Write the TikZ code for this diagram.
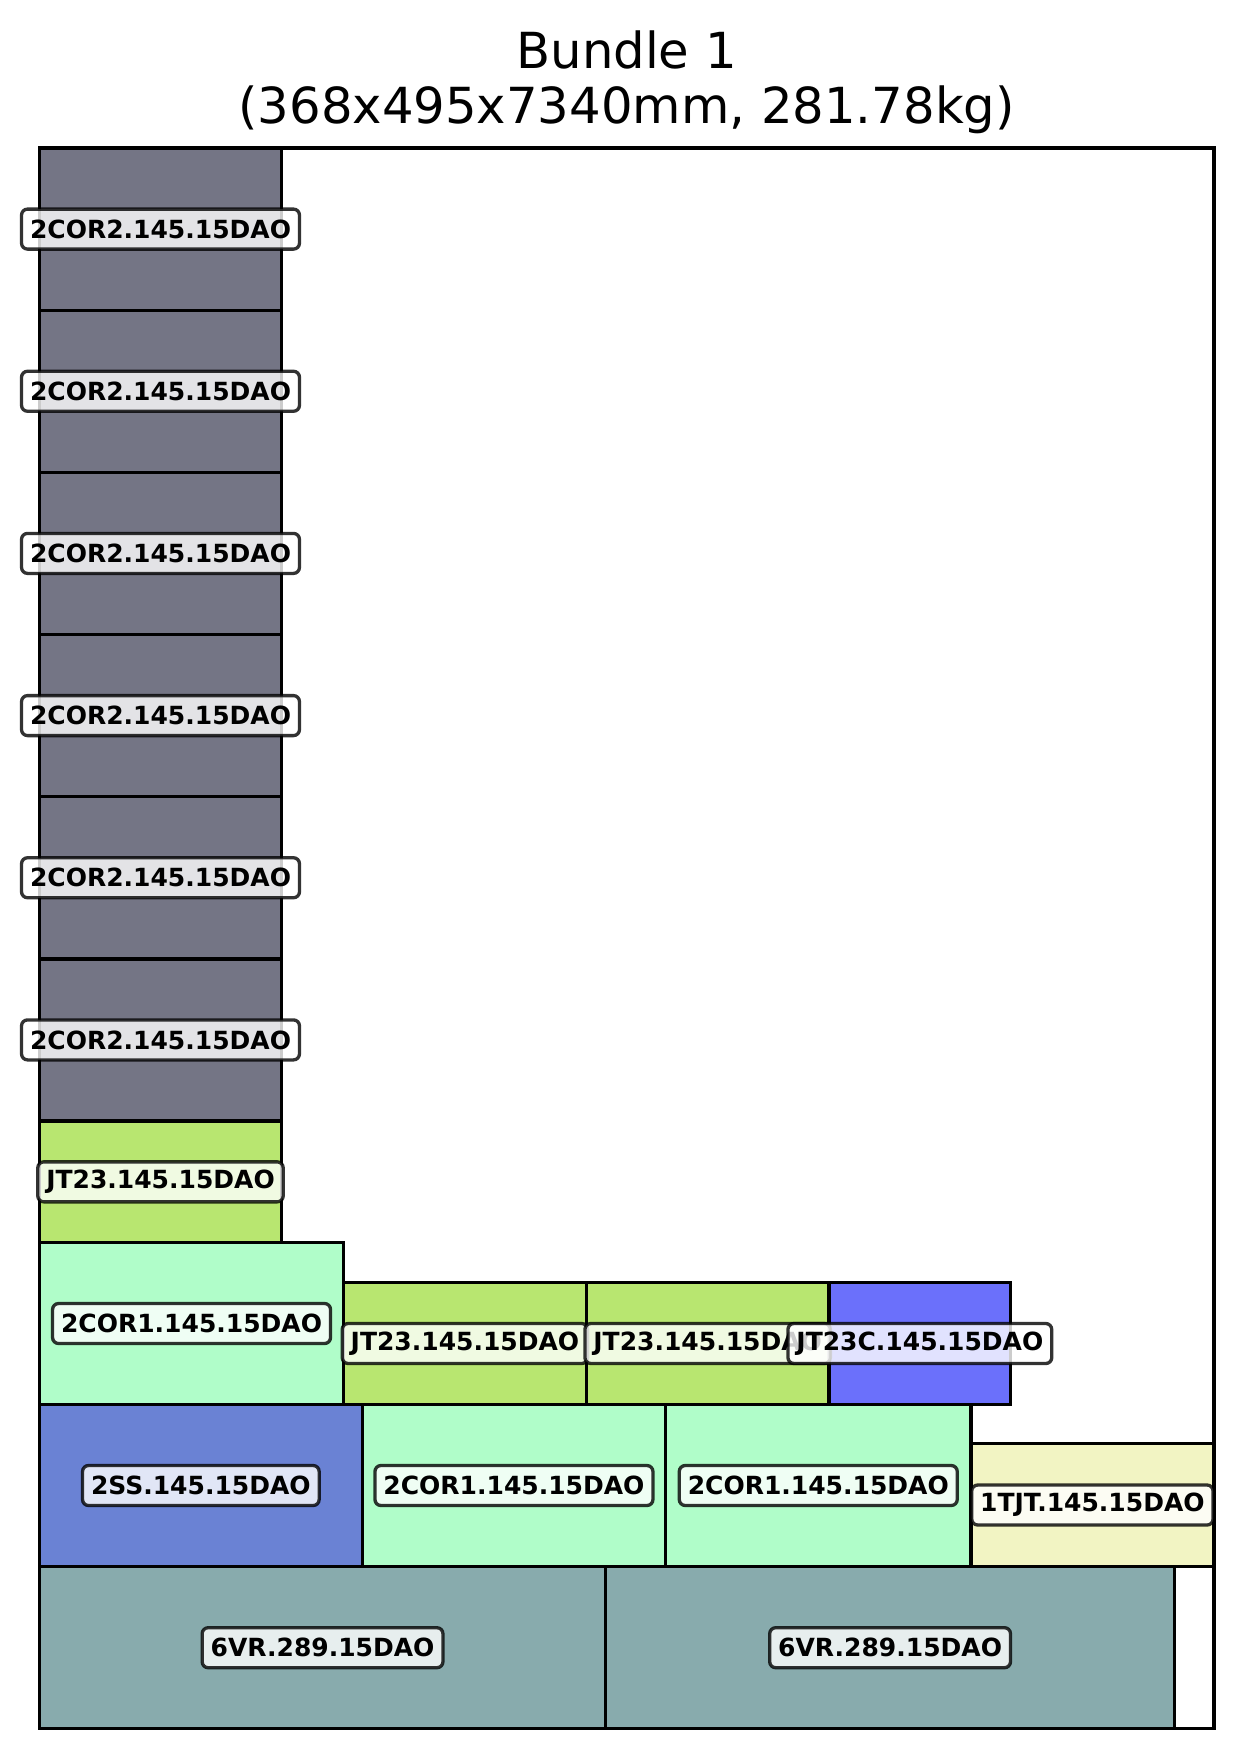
\documentclass[tikz,border=0pt]{standalone}
\usepackage{fontspec}
\setmainfont{DejaVu Sans}
\definecolor{cgray}{HTML}{747585}
\definecolor{cjt}{HTML}{B8E670}
\definecolor{cmint}{HTML}{B0FDC9}
\definecolor{css}{HTML}{6A82D4}
\definecolor{cjtc}{HTML}{6B70FB}
\definecolor{ctjt}{HTML}{F2F4C3}
\definecolor{cvr}{HTML}{88ABAD}
\begin{document}
\begin{tikzpicture}[x=1pt,y=-1pt,
  pbox/.style={draw=black,line width=3.4pt},
  plabel/.style={draw=black,draw opacity=0.8,fill=white,fill opacity=0.8,text opacity=1,
    rounded corners=6pt,line width=3.3pt,inner xsep=8.5pt,inner ysep=0pt,minimum height=40pt,
    font=\fontsize{25}{27}\selectfont\bfseries},
  ttl/.style={font=\fontsize{49.7}{55}\selectfont,anchor=base,inner sep=0pt}]
\useasboundingbox (0,0) rectangle (1244,1759);
% title
\node[ttl] (t1) at (626.7,68.3) {Bundle 1};
\node[ttl] (t2) at (626.7,123.3) {(368x495x7340mm, 281.78kg)};
% boxes
\draw[pbox,fill=cgray] (39.5,148) rectangle (281.6,310.2);
\draw[pbox,fill=cgray] (39.5,310.2) rectangle (281.6,472.3);
\draw[pbox,fill=cgray] (39.5,472.3) rectangle (281.6,634.5);
\draw[pbox,fill=cgray] (39.5,634.5) rectangle (281.6,796.7);
\draw[pbox,fill=cgray] (39.5,796.7) rectangle (281.6,958.8);
\draw[pbox,fill=cgray] (39.5,958.8) rectangle (281.6,1121);
\draw[pbox,fill=cjt] (39.5,1121) rectangle (281.6,1242.7);
\draw[pbox,fill=cmint] (39.5,1242.7) rectangle (343.6,1404.3);
\draw[pbox,fill=cjt] (343.6,1282.7) rectangle (586.3,1404.3);
\draw[pbox,fill=cjt] (586.3,1282.7) rectangle (829,1404.3);
\draw[pbox,fill=cjtc] (829,1282.7) rectangle (1010.7,1404.3);
\draw[pbox,fill=css] (39.5,1404.3) rectangle (362.2,1566.7);
\draw[pbox,fill=cmint] (362.2,1404.3) rectangle (665.7,1566.7);
\draw[pbox,fill=cmint] (665.7,1404.3) rectangle (970.8,1566.7);
\draw[pbox,fill=ctjt] (970.8,1443.3) rectangle (1214,1566.7);
\draw[pbox,fill=cvr] (39.5,1566.7) rectangle (605.6,1728.7);
\draw[pbox,fill=cvr] (605.6,1566.7) rectangle (1174.6,1728.7);
% frame
\draw[pbox] (39.5,148) rectangle (1214,1728.7);
% labels
\node[plabel] (l1) at (160.5,229.1) {2COR2.145.15DAO};
\node[plabel] (l2) at (160.5,391.25) {2COR2.145.15DAO};
\node[plabel] (l3) at (160.5,553.4) {2COR2.145.15DAO};
\node[plabel] (l4) at (160.5,715.6) {2COR2.145.15DAO};
\node[plabel] (l5) at (160.5,877.75) {2COR2.145.15DAO};
\node[plabel] (l6) at (160.5,1039.9) {2COR2.145.15DAO};
\node[plabel] (l7) at (160.5,1181.85) {JT23.145.15DAO};
\node[plabel] (l8) at (191.55,1323.5) {2COR1.145.15DAO};
\node[plabel] (l9) at (464.95,1343.5) {JT23.145.15DAO};
\node[plabel] (l10) at (707.65,1343.5) {JT23.145.15DAO};
\node[plabel] (l11) at (919.85,1343.5) {JT23C.145.15DAO};
\node[plabel] (l12) at (200.85,1485.5) {2SS.145.15DAO};
\node[plabel] (l13) at (513.95,1485.5) {2COR1.145.15DAO};
\node[plabel] (l14) at (818.25,1485.5) {2COR1.145.15DAO};
\node[plabel] (l15) at (1092.4,1505) {1TJT.145.15DAO};
\node[plabel] (l16) at (322.55,1647.7) {6VR.289.15DAO};
\node[plabel] (l17) at (890.1,1647.7) {6VR.289.15DAO};
\end{tikzpicture}
\end{document}
